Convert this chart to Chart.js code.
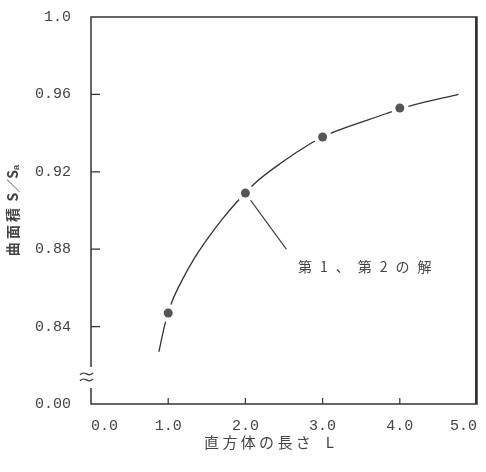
<!DOCTYPE html>
<html lang="ja">
<head>
<meta charset="UTF-8">
<title>曲面積と直方体の長さ</title>
<script src="https://cdn.jsdelivr.net/npm/chart.js"></script>
<style>
  html, body { margin: 0; padding: 0; background: #fff; overflow: hidden; }
  canvas { display: block; }
</style>
</head>
<body>
<canvas id="chart" width="486" height="472"></canvas>
<script>
// 計算点 (L, S/Sa)
const pointL = [1.0, 2.0, 3.0, 4.0];
const pointS = [0.847, 0.909, 0.938, 0.953];

// 曲線
const curveL = [0.88, 0.95, 1.0, 1.05, 1.18, 1.35, 1.52, 1.69, 1.88, 2.0, 2.12, 2.46, 2.86, 3.0, 3.14, 3.82, 4.0, 4.17, 4.76];
const curveS = [0.827, 0.840, 0.847, 0.853, 0.864, 0.876, 0.886, 0.895, 0.904, 0.909, 0.914, 0.9245, 0.935, 0.938, 0.9405, 0.950, 0.9525, 0.9545, 0.960];

// 引出し線と注記
const leaderL = [2.0, 2.53];
const leaderS = [0.909, 0.880];
const noteAt = [2.68, 0.871];
const noteText = '第1、第2の解';

const xTicks = [0, 1, 2, 3, 4, 5];
const yTicks = [0.80, 0.84, 0.88, 0.92, 0.96, 1.0];
const yTickLabels = ['0.00', '0.84', '0.88', '0.92', '0.96', '1.0'];
const yBreak = 0.814;

const ink = '#333';

// 枠・内向き目盛・省略記号・注記
const framePlugin = {
  id: 'frame',
  afterDraw(chart) {
    const { ctx, scales: { x, y } } = chart;
    const L = x.getPixelForValue(x.min), R = x.getPixelForValue(x.max);
    const T = y.getPixelForValue(y.max), B = y.getPixelForValue(y.min);
    const yb = y.getPixelForValue(yBreak);
    ctx.save();
    ctx.strokeStyle = ink;
    ctx.lineWidth = 1.5;
    ctx.beginPath();
    ctx.moveTo(L, yb - 10);
    ctx.lineTo(L, T);
    ctx.lineTo(R, T);
    ctx.lineTo(R, B);
    ctx.lineTo(L, B);
    ctx.lineTo(L, yb + 11);
    ctx.stroke();

    // 右辺 (念のため別に太めに)
    ctx.lineWidth = 2;
    ctx.beginPath();
    ctx.moveTo(R - 1, T);
    ctx.lineTo(R - 1, B);
    ctx.stroke();

    ctx.lineWidth = 1.2;
    ctx.beginPath();
    x.ticks.slice(1, -1).forEach(t => {
      const px = x.getPixelForValue(t.value);
      ctx.moveTo(px, B);
      ctx.lineTo(px, B - 6);
    });
    y.ticks.slice(1, -1).forEach(t => {
      const py = y.getPixelForValue(t.value);
      ctx.moveTo(L, py);
      ctx.lineTo(L + 9, py);
    });
    ctx.stroke();

    // 軸の省略記号
    ctx.lineWidth = 1.3;
    [-3, 3].forEach(dy => {
      ctx.beginPath();
      ctx.moveTo(L - 11, yb + dy + 1);
      ctx.bezierCurveTo(L - 6, yb + dy - 5, L - 3, yb + dy + 5, L + 2, yb + dy - 1);
      ctx.stroke();
    });

    ctx.fillStyle = '#444';
    ctx.font = '14px "Noto Sans CJK JP"';
    ctx.textBaseline = 'middle';
    ctx.textAlign = 'left';
    ctx.letterSpacing = '8px';
    ctx.fillText(noteText, x.getPixelForValue(noteAt[0]), y.getPixelForValue(noteAt[1]));
    ctx.restore();
  }
};

const monoFont = { family: '"Liberation Mono", monospace', size: 15 };
const cjkFont = { family: '"Noto Sans CJK JP", sans-serif', size: 15 };

new Chart(document.getElementById('chart'), {
  type: 'scatter',
  data: {
    datasets: [
      {
        data: curveL.map((v, i) => ({ x: v, y: curveS[i] })),
        showLine: true,
        borderColor: ink,
        borderWidth: 1.3,
        pointRadius: 0,
        cubicInterpolationMode: 'monotone',
        order: 4
      },
      {
        data: leaderL.map((v, i) => ({ x: v, y: leaderS[i] })),
        showLine: true,
        borderColor: '#444',
        borderWidth: 1.2,
        pointRadius: 0,
        order: 3
      },
      {
        // 点の周りの白抜き
        data: pointL.map((v, i) => ({ x: v, y: pointS[i] })),
        pointRadius: 9,
        backgroundColor: '#fff',
        borderWidth: 0,
        order: 2
      },
      {
        data: pointL.map((v, i) => ({ x: v, y: pointS[i] })),
        pointRadius: 4.5,
        backgroundColor: '#555',
        borderColor: '#555',
        borderWidth: 0,
        order: 1
      }
    ]
  },
  options: {
    responsive: false,
    animation: false,
    layout: { padding: { top: 17, right: 5, bottom: 21, left: 4 } },
    plugins: {
      legend: { display: false },
      tooltip: { enabled: false }
    },
    scales: {
      x: {
        type: 'linear',
        min: 0,
        max: 5,
        afterBuildTicks: s => { s.ticks = xTicks.map(v => ({ value: v })); },
        afterFit: s => { s.height = 47; s.paddingLeft = 0; s.paddingRight = 0; },
        ticks: {
          callback: v => v.toFixed(1),
          align: 'inner',
          maxRotation: 0,
          padding: 5,
          color: '#444',
          font: monoFont
        },
        grid: { display: false },
        border: { display: false },
        title: {
          display: true,
          text: '直 方 体 の 長 さ　L　　',
          color: '#444',
          font: cjkFont,
          padding: { top: 0, bottom: 0 }
        }
      },
      y: {
        type: 'linear',
        min: 0.8,
        max: 1.0,
        afterBuildTicks: s => { s.ticks = yTicks.map(v => ({ value: v })); },
        afterFit: s => { s.width = 87; s.paddingTop = 0; s.paddingBottom = 0; },
        ticks: {
          callback: (v, i) => yTickLabels[i],
          padding: 12,
          color: '#444',
          font: monoFont
        },
        grid: { display: false },
        border: { display: false },
        title: {
          display: true,
          text: '曲 面 積  S／Sₐ',
          color: '#444',
          font: { family: '"Noto Sans CJK JP", sans-serif', size: 14, weight: 'bold' },
          padding: { top: 0, bottom: 0 }
        }
      }
    }
  },
  plugins: [framePlugin]
});
</script>
</body>
</html>
